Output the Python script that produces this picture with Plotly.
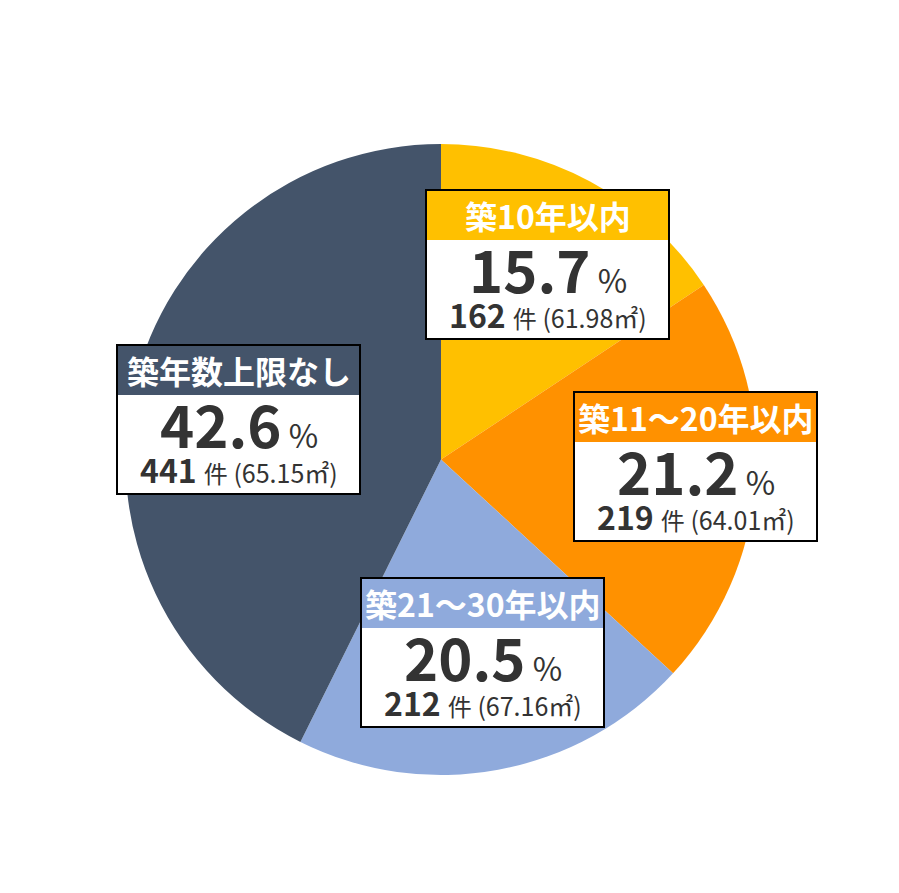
""" plot.py

    Pie chart of listings by building age, with boxed labels on top
    of each slice.
"""

import plotly.graph_objs as go

# Data
categories = ["築10年以内", "築11～20年以内", "築21～30年以内", "築年数上限なし"]
counts = [162, 219, 212, 441]
percents = [15.7, 21.2, 20.5, 42.6]
avg_area = [61.98, 64.01, 67.16, 65.15]

colors = ["#FFC000", "#FF9100", "#8FAADC", "#44546A"]

# the page body has an 8px margin, so the figure is drawn that much in
PAGE_MARGIN = 8
W, H = 899 - 2 * PAGE_MARGIN, 893 - 2 * PAGE_MARGIN
FONT = "Noto Sans CJK JP"
TEXT_COLOR = "#333333"

# top-left corner (window pixels) of each label box
box_pos = [(426, 190), (574, 392), (361, 578), (117, 345)]
BOX_W, BOX_H, HEAD_H = 243, 149, 50


def px(x):
    return (x - PAGE_MARGIN) / W


def py(y):
    return 1 - (y - PAGE_MARGIN) / H


def label_box(i):
    """ Returns the shapes and annotations of one label box """
    x0, y0 = box_pos[i]
    x1, y1 = x0 + BOX_W, y0 + BOX_H
    cx = (x0 + x1) / 2
    shapes = [
        dict(type="rect", xref="paper", yref="paper",
             x0=px(x0), x1=px(x1), y0=py(y0 + HEAD_H), y1=py(y1),
             fillcolor="white", line={"width": 0}),
        dict(type="rect", xref="paper", yref="paper",
             x0=px(x0), x1=px(x1), y0=py(y0), y1=py(y0 + HEAD_H),
             fillcolor=colors[i], line={"width": 0}),
        dict(type="rect", xref="paper", yref="paper",
             x0=px(x0), x1=px(x1), y0=py(y0), y1=py(y1),
             fillcolor="rgba(0,0,0,0)", line={"color": "black", "width": 2}),
    ]
    annotations = [
        dict(x=px(cx), y=py(y0 + 25), text="<b>%s</b>" % categories[i],
             font={"size": 32, "color": "white", "family": FONT}),
        dict(x=px(cx), y=py(y0 + 78),
             text="<b>%.1f</b><span style='font-size:32px'> %%</span>" % percents[i],
             font={"size": 58, "color": TEXT_COLOR, "family": FONT}),
        dict(x=px(cx), y=py(y0 + 124),
             text="<b>%d</b> <span style='font-size:24px'>件</span>"
                  "<span style='font-size:25px'> (%.2f㎡)</span>" % (counts[i], avg_area[i]),
             font={"size": 32, "color": TEXT_COLOR, "family": FONT}),
    ]
    for a in annotations:
        a.update(xref="paper", yref="paper", showarrow=False,
                 xanchor="center", yanchor="middle")
    return shapes, annotations


pie = go.Pie(
    labels=categories,
    values=counts,
    sort=False,
    direction="clockwise",
    rotation=0,
    marker={"colors": colors, "line": {"width": 0}},
    textinfo="none",
    hoverinfo="label+percent",
    domain={"x": [px(125.5), px(756.5)], "y": [py(775), py(144)]},
    showlegend=False,
)

shapes, annotations = [], []
for i in range(len(categories)):
    s, a = label_box(i)
    shapes += s
    annotations += a

layout = go.Layout(
    autosize=False,
    width=W,
    height=H,
    margin={"l": 0, "r": 0, "t": 0, "b": 0},
    paper_bgcolor="white",
    plot_bgcolor="white",
    shapes=shapes,
    annotations=annotations,
    font={"family": FONT},
)

fig = go.Figure(data=[pie], layout=layout)
fig.write_html("out.html")
